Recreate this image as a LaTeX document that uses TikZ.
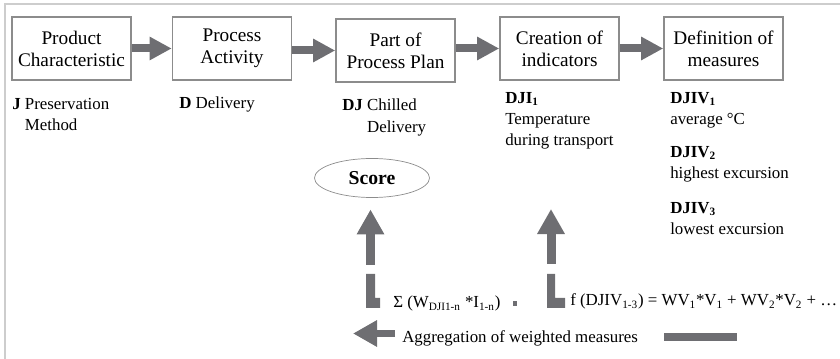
\documentclass[tikz,border=0pt]{standalone}
\usepackage{fontspec}
\setmainfont{Liberation Serif}
\usetikzlibrary{arrows.meta,shapes.geometric}
\definecolor{blockgray}{RGB}{110,110,114}
\definecolor{boxgray}{RGB}{140,140,140}
\definecolor{framegray}{RGB}{205,205,205}

\begin{document}
\begin{tikzpicture}[x=0.025cm, y=-0.025cm, line join=miter,
    stage/.style={draw=boxgray, line width=1.1pt, minimum width=2.975cm,
      minimum height=1.575cm, inner sep=0pt, align=center,
      font=\fontsize{13.7}{15.6}\selectfont},
    lab/.style={anchor=north west, align=left, inner sep=0pt,
      font=\fontsize{12}{15}\selectfont},
    fatarrow/.style={draw=blockgray, line width=0.2cm,
      -{Triangle[length=0.55cm,width=0.55cm]}},
    uparrow/.style={draw=blockgray, line width=0.225cm,
      -{Triangle[length=0.625cm,width=0.65cm]}}]
  \useasboundingbox (0,0) rectangle (840,359);
  \draw[framegray, line width=0.8pt] (5,359) -- (5,4) -- (840,4);

  \node[stage] (prod) at (71.5,48.5) {Product\\Characteristic};
  \node[stage] (act)  at (232,48.5)  {Process\\Activity};
  \node[stage] (plan) at (395.5,50.5) {Part of\\Process Plan};
  \node[stage] (ind)  at (559.5,48.5) {Creation of\\indicators};
  \node[stage] (meas) at (723.5,48.5) {Definition of\\measures};

  \draw[fatarrow] (prod.east) -- (act.west);
  \draw[fatarrow] (act.east |- plan.west) -- (plan.west);
  \draw[fatarrow] (plan.east |- ind.west) -- (ind.west);
  \draw[fatarrow] (ind.east) -- (meas.west);

  \node[lab] (jlab) at (12,98)
      {\textbf{J} Preservation\\\hphantom{\textbf{J} }Method};
  \node[lab] (dlab) at (179,97) {\textbf{D} Delivery};
  \node[lab] (djlab) at (342,99)
      {\textbf{DJ} Chilled\\\hphantom{\textbf{DJ} }Delivery};
  \node[lab] (djilab) at (505,92)
      {\textbf{DJI\textsubscript{1}}\\Temperature\\during transport};
  \node[lab] (vone) at (670,92) {\textbf{DJIV\textsubscript{1}}\\average °C};
  \node[lab] (vtwo) at (670,146) {\textbf{DJIV\textsubscript{2}}\\highest excursion};
  \node[lab] (vthree) at (670,202) {\textbf{DJIV\textsubscript{3}}\\lowest excursion};

  \node[ellipse, draw=boxgray, line width=0.5pt, minimum width=2.875cm,
      minimum height=0.975cm, inner sep=0pt,
      font=\fontsize{14}{16}\selectfont] (score) at (372,178) {\textbf{Score}};

  \coordinate (sbase) at (370.5,265);
  \draw[uparrow, shorten >=0.29cm] (sbase) -- (sbase |- score.south);
  \coordinate (fbase) at (551,264);
  \coordinate (ftip) at (551,209);
  \draw[uparrow] (fbase) -- (ftip);

  \fill[blockgray] (366,274) -- (375,274) -- (375,298) -- (380,298)
      -- (380,308) -- (366,308) -- cycle;
  \fill[blockgray] (547,274) -- (555,274) -- (555,298) -- (565,298)
      -- (565,308) -- (547,308) -- cycle;

  \node[lab, anchor=base west] (sigma) at (393,308)
      {Σ (W\textsubscript{DJI1-n} *I\textsubscript{1-n})};
  \fill[blockgray] (513,301) rectangle (517,306);
  \node[lab, anchor=base west] (fdjiv) at (570,306)
      {f (DJIV\textsubscript{1-3}) = WV\textsubscript{1}*V\textsubscript{1}
       + WV\textsubscript{2}*V\textsubscript{2} + …};

  \coordinate (aggtail) at (395,333.5);
  \coordinate (aggtip) at (353,333.5);
  \draw[draw=blockgray, line width=0.175cm,
      -{Triangle[length=0.6cm,width=0.625cm]}] (aggtail) -- (aggtip);
  \node[lab, anchor=base west] (aggr) at (402,342) {Aggregation of weighted measures};
  \fill[blockgray] (664,333) rectangle (737,341);
\end{tikzpicture}
\end{document}
